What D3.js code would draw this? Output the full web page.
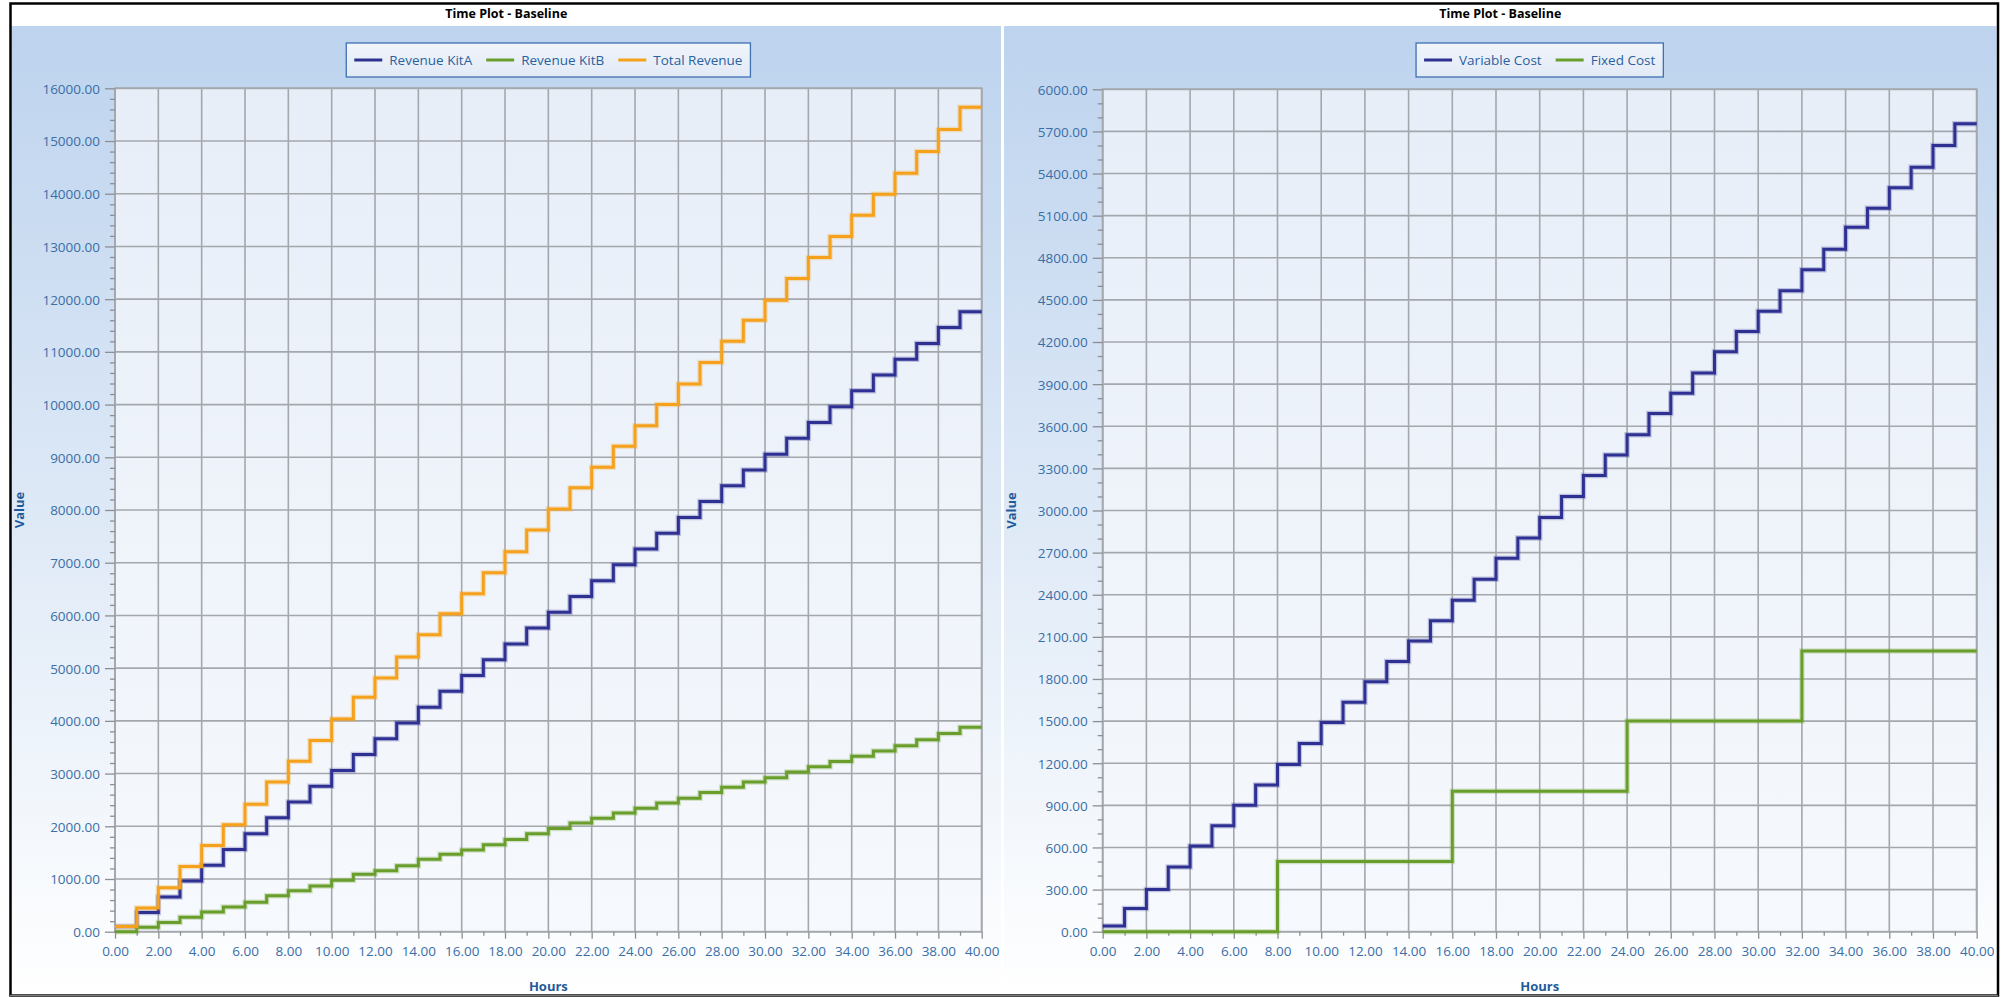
<!DOCTYPE html>
<html>
<head>
<meta charset="utf-8">
<script src="https://cdn.jsdelivr.net/npm/d3@7"></script>
<style>
body { margin: 0; background: #fff; }
text { font-family: "Open Sans", sans-serif; }
</style>
</head>
<body>
<svg width="2009" height="997"></svg>
<script>
var hours = [0, 1, 2, 3, 4, 5, 6, 7, 8, 9, 10, 11, 12, 13, 14, 15, 16, 17, 18, 19, 20,
             21, 22, 23, 24, 25, 26, 27, 28, 29, 30, 31, 32, 33, 34, 35, 36, 37, 38, 39, 40];

// left chart
var revenueKitA = [100, 365, 660, 960, 1260, 1560, 1860, 2160, 2460, 2760, 3060, 3360, 3660, 3960,
                   4260, 4560, 4860, 5160, 5460, 5760, 6060, 6360, 6660, 6960, 7260, 7560, 7860,
                   8160, 8460, 8760, 9060, 9360, 9660, 9960, 10260, 10560, 10860, 11160, 11460, 11760, 11760];
var revenueKitB = [0, 85, 175, 275, 375, 470, 560, 680, 775, 865, 975, 1090, 1155, 1250, 1375, 1470,
                   1550, 1650, 1750, 1860, 1960, 2060, 2150, 2250, 2340, 2440, 2530, 2640, 2740, 2840,
                   2920, 3030, 3130, 3230, 3330, 3430, 3530, 3640, 3760, 3880, 3880];
var totalRevenue = [100, 450, 835, 1235, 1635, 2030, 2420, 2840, 3235, 3625, 4035, 4450, 4815, 5210,
                    5635, 6030, 6410, 6810, 7210, 7620, 8020, 8420, 8810, 9210, 9600, 10000, 10390,
                    10800, 11200, 11600, 11980, 12390, 12790, 13190, 13590, 13990, 14390, 14800, 15220, 15640, 15640];

// right chart
var variableCost = [40, 166, 301, 460, 610, 755, 900, 1045, 1190, 1340, 1490, 1635, 1780, 1925, 2070,
                    2215, 2360, 2510, 2660, 2805, 2950, 3100, 3250, 3395, 3540, 3690, 3835, 3980, 4130,
                    4275, 4420, 4565, 4715, 4860, 5018, 5153, 5298, 5445, 5599, 5754, 5754];
var fixedCost = [0, 0, 0, 0, 0, 0, 0, 0, 500, 500, 500, 500, 500, 500, 500, 500, 1000, 1000, 1000, 1000,
                 1000, 1000, 1000, 1000, 1500, 1500, 1500, 1500, 1500, 1500, 1500, 1500, 2000, 2000, 2000,
                 2000, 2000, 2000, 2000, 2000, 2000];

var leftSeries = [
    {name: "Revenue KitA", color: "#2e3192", values: revenueKitA},
    {name: "Revenue KitB", color: "#6a9e2c", values: revenueKitB},
    {name: "Total Revenue", color: "#f5a11c", values: totalRevenue}
];
var rightSeries = [
    {name: "Variable Cost", color: "#2e3192", values: variableCost},
    {name: "Fixed Cost", color: "#6a9e2c", values: fixedCost}
];

var chartTitle = "Time Plot - Baseline";
var tickColor = "#3a6ea6";
var gridColor = "#a4a7ac";
const svg = d3.select("svg");

var defs = svg.append("defs");
var pg = defs.append("linearGradient").attr("id", "panel_bg")
    .attr("x1", 0).attr("y1", 0).attr("x2", 0).attr("y2", 1);
pg.append("stop").attr("offset", "0%").attr("stop-color", "#bdd3ee");
pg.append("stop").attr("offset", "100%").attr("stop-color", "#ffffff");
var plg = defs.append("linearGradient").attr("id", "plot_bg")
    .attr("x1", 0).attr("y1", 0).attr("x2", 0).attr("y2", 1);
plg.append("stop").attr("offset", "0%").attr("stop-color", "#e7eef8");
plg.append("stop").attr("offset", "100%").attr("stop-color", "#f6f9fd");
var lg = defs.append("linearGradient").attr("id", "legend_bg")
    .attr("x1", 0).attr("y1", 0).attr("x2", 0).attr("y2", 1);
lg.append("stop").attr("offset", "0%").attr("stop-color", "#f1f5fb");
lg.append("stop").attr("offset", "100%").attr("stop-color", "#e1eaf6");

function drawPanel(p) {
    var g = svg.append("g");
    var plotBottom = 931.7;

    g.append("rect")
        .attr("x", p.left).attr("y", 26)
        .attr("width", p.width).attr("height", 996 - 26)
        .attr("fill", "url(#panel_bg)");

    g.append("text")
        .attr("x", p.left + p.width / 2).attr("y", 18)
        .attr("text-anchor", "middle")
        .style("font-size", "12.5px").style("font-weight", "bold")
        .attr("fill", "#000")
        .text(chartTitle);

    var x = d3.scaleLinear().domain([0, 40]).range([p.plotLeft, p.plotRight]);
    var y = d3.scaleLinear().domain([0, p.yMax]).range([plotBottom, p.plotTop]);

    g.append("rect")
        .attr("x", p.plotLeft).attr("y", p.plotTop)
        .attr("width", p.plotRight - p.plotLeft).attr("height", plotBottom - p.plotTop)
        .attr("fill", "url(#plot_bg)");

    var xMajor = d3.range(0, 41, 2);
    var xMinor = d3.range(1, 40, 2);
    var yMajor = d3.range(0, p.yMax + 1, p.yStep);
    var yMinor = d3.range(0, p.yMax, p.yStep / p.yDiv).filter(v => v % p.yStep != 0);

    // grid
    g.append("g")
        .selectAll("line.vgrid")
        .data(xMajor)
        .join("line")
        .attr("x1", d => x(d)).attr("x2", d => x(d))
        .attr("y1", p.plotTop).attr("y2", plotBottom)
        .attr("stroke", gridColor).attr("stroke-width", 1.6);
    g.append("g")
        .selectAll("line.hgrid")
        .data(yMajor)
        .join("line")
        .attr("x1", p.plotLeft).attr("x2", p.plotRight)
        .attr("y1", d => y(d)).attr("y2", d => y(d))
        .attr("stroke", gridColor).attr("stroke-width", 1.6);

    g.append("rect")
        .attr("x", p.plotLeft).attr("y", p.plotTop)
        .attr("width", p.plotRight - p.plotLeft).attr("height", plotBottom - p.plotTop)
        .attr("fill", "none").attr("stroke", gridColor).attr("stroke-width", 1.8);

    // axes
    var yAxis = g.append("g")
        .attr("transform", `translate(${p.plotLeft},0)`)
        .call(d3.axisLeft(y).tickValues(yMajor).tickFormat(d3.format(".2f")).tickSize(10).tickPadding(5));
    g.append("g")
        .attr("transform", `translate(${p.plotLeft},0)`)
        .call(d3.axisLeft(y).tickValues(yMinor).tickFormat("").tickSize(5));
    var xAxis = g.append("g")
        .attr("transform", `translate(0,${plotBottom})`)
        .call(d3.axisBottom(x).tickValues(xMajor).tickFormat(d3.format(".2f")).tickSize(7).tickPadding(8));
    g.append("g")
        .attr("transform", `translate(0,${plotBottom})`)
        .call(d3.axisBottom(x).tickValues(xMinor).tickFormat("").tickSize(4));

    g.selectAll(".domain").remove();
    g.selectAll(".tick line").attr("stroke", "#8c8f94").attr("stroke-width", 1.3);
    g.selectAll(".tick text")
        .attr("fill", tickColor)
        .style("font-size", "13.5px")
        .style("font-family", "'Open Sans', sans-serif");
    yAxis.selectAll(".tick text").attr("dy", "0.36em");

    g.append("text")
        .attr("x", (p.plotLeft + p.plotRight) / 2).attr("y", 991)
        .attr("text-anchor", "middle")
        .style("font-size", "13px").style("font-weight", "bold")
        .attr("fill", "#1f5b9a")
        .text("Hours");

    g.append("text")
        .attr("transform", `translate(${p.left + 12},${(p.plotTop + plotBottom) / 2}) rotate(-90)`)
        .attr("text-anchor", "middle")
        .style("font-size", "13px").style("font-weight", "bold")
        .attr("fill", "#1f5b9a")
        .text("Value");

    // lines
    var line = d3.line()
        .x((d, i) => x(hours[i]))
        .y(d => y(d))
        .curve(d3.curveStepAfter);

    var lines = g.append("g").attr("fill", "none");
    p.series.forEach(s => {
        lines.append("path")
            .attr("d", line(s.values))
            .attr("stroke", s.color).attr("stroke-opacity", 0.25)
            .attr("stroke-width", 5.5);
        lines.append("path")
            .attr("d", line(s.values))
            .attr("stroke", s.color)
            .attr("stroke-width", 3);
    });

    // legend
    var leg = g.append("g");
    var box = leg.append("rect")
        .attr("y", 43).attr("height", 34)
        .attr("fill", "url(#legend_bg)")
        .attr("stroke", "#3f70b3").attr("stroke-width", 1.3);
    var cx = 0;
    var items = [];
    p.series.forEach(s => {
        var it = leg.append("g");
        it.append("line")
            .attr("x1", 0).attr("x2", 28).attr("y1", 60).attr("y2", 60)
            .attr("stroke", s.color).attr("stroke-width", 3);
        var t = it.append("text")
            .attr("x", 35).attr("y", 60).attr("dy", "0.35em")
            .style("font-size", "13.5px")
            .attr("fill", "#2b5f9f")
            .text(s.name);
        var w = 35 + t.node().getComputedTextLength();
        items.push({g: it, w: w});
    });
    var gap = 14;
    var total = d3.sum(items, d => d.w) + gap * (items.length - 1) + 16;
    var start = (p.plotLeft + p.plotRight) / 2 - total / 2;
    box.attr("x", start).attr("width", total);
    cx = start + 8;
    items.forEach(d => {
        d.g.attr("transform", `translate(${cx},0)`);
        cx += d.w + gap;
    });
}

drawPanel({
    left: 11.5, width: 989.5,
    plotLeft: 115, plotRight: 981.7, plotTop: 88.3,
    yMax: 16000, yStep: 1000, yDiv: 5,
    series: leftSeries
});
drawPanel({
    left: 1004, width: 992.5,
    plotLeft: 1102.7, plotRight: 1976.7, plotTop: 89.3,
    yMax: 6000, yStep: 300, yDiv: 3,
    series: rightSeries
});

// outer frame
svg.append("rect")
    .attr("x", 10.5).attr("y", 3.5)
    .attr("width", 1987.5).attr("height", 992)
    .attr("fill", "none").attr("stroke", "#000").attr("stroke-width", 2.5);
svg.append("line")
    .attr("x1", 10).attr("x2", 1998).attr("y1", 995.5).attr("y2", 995.5)
    .attr("stroke", "#7a7a7a").attr("stroke-width", 1.5);
</script>
</body>
</html>
